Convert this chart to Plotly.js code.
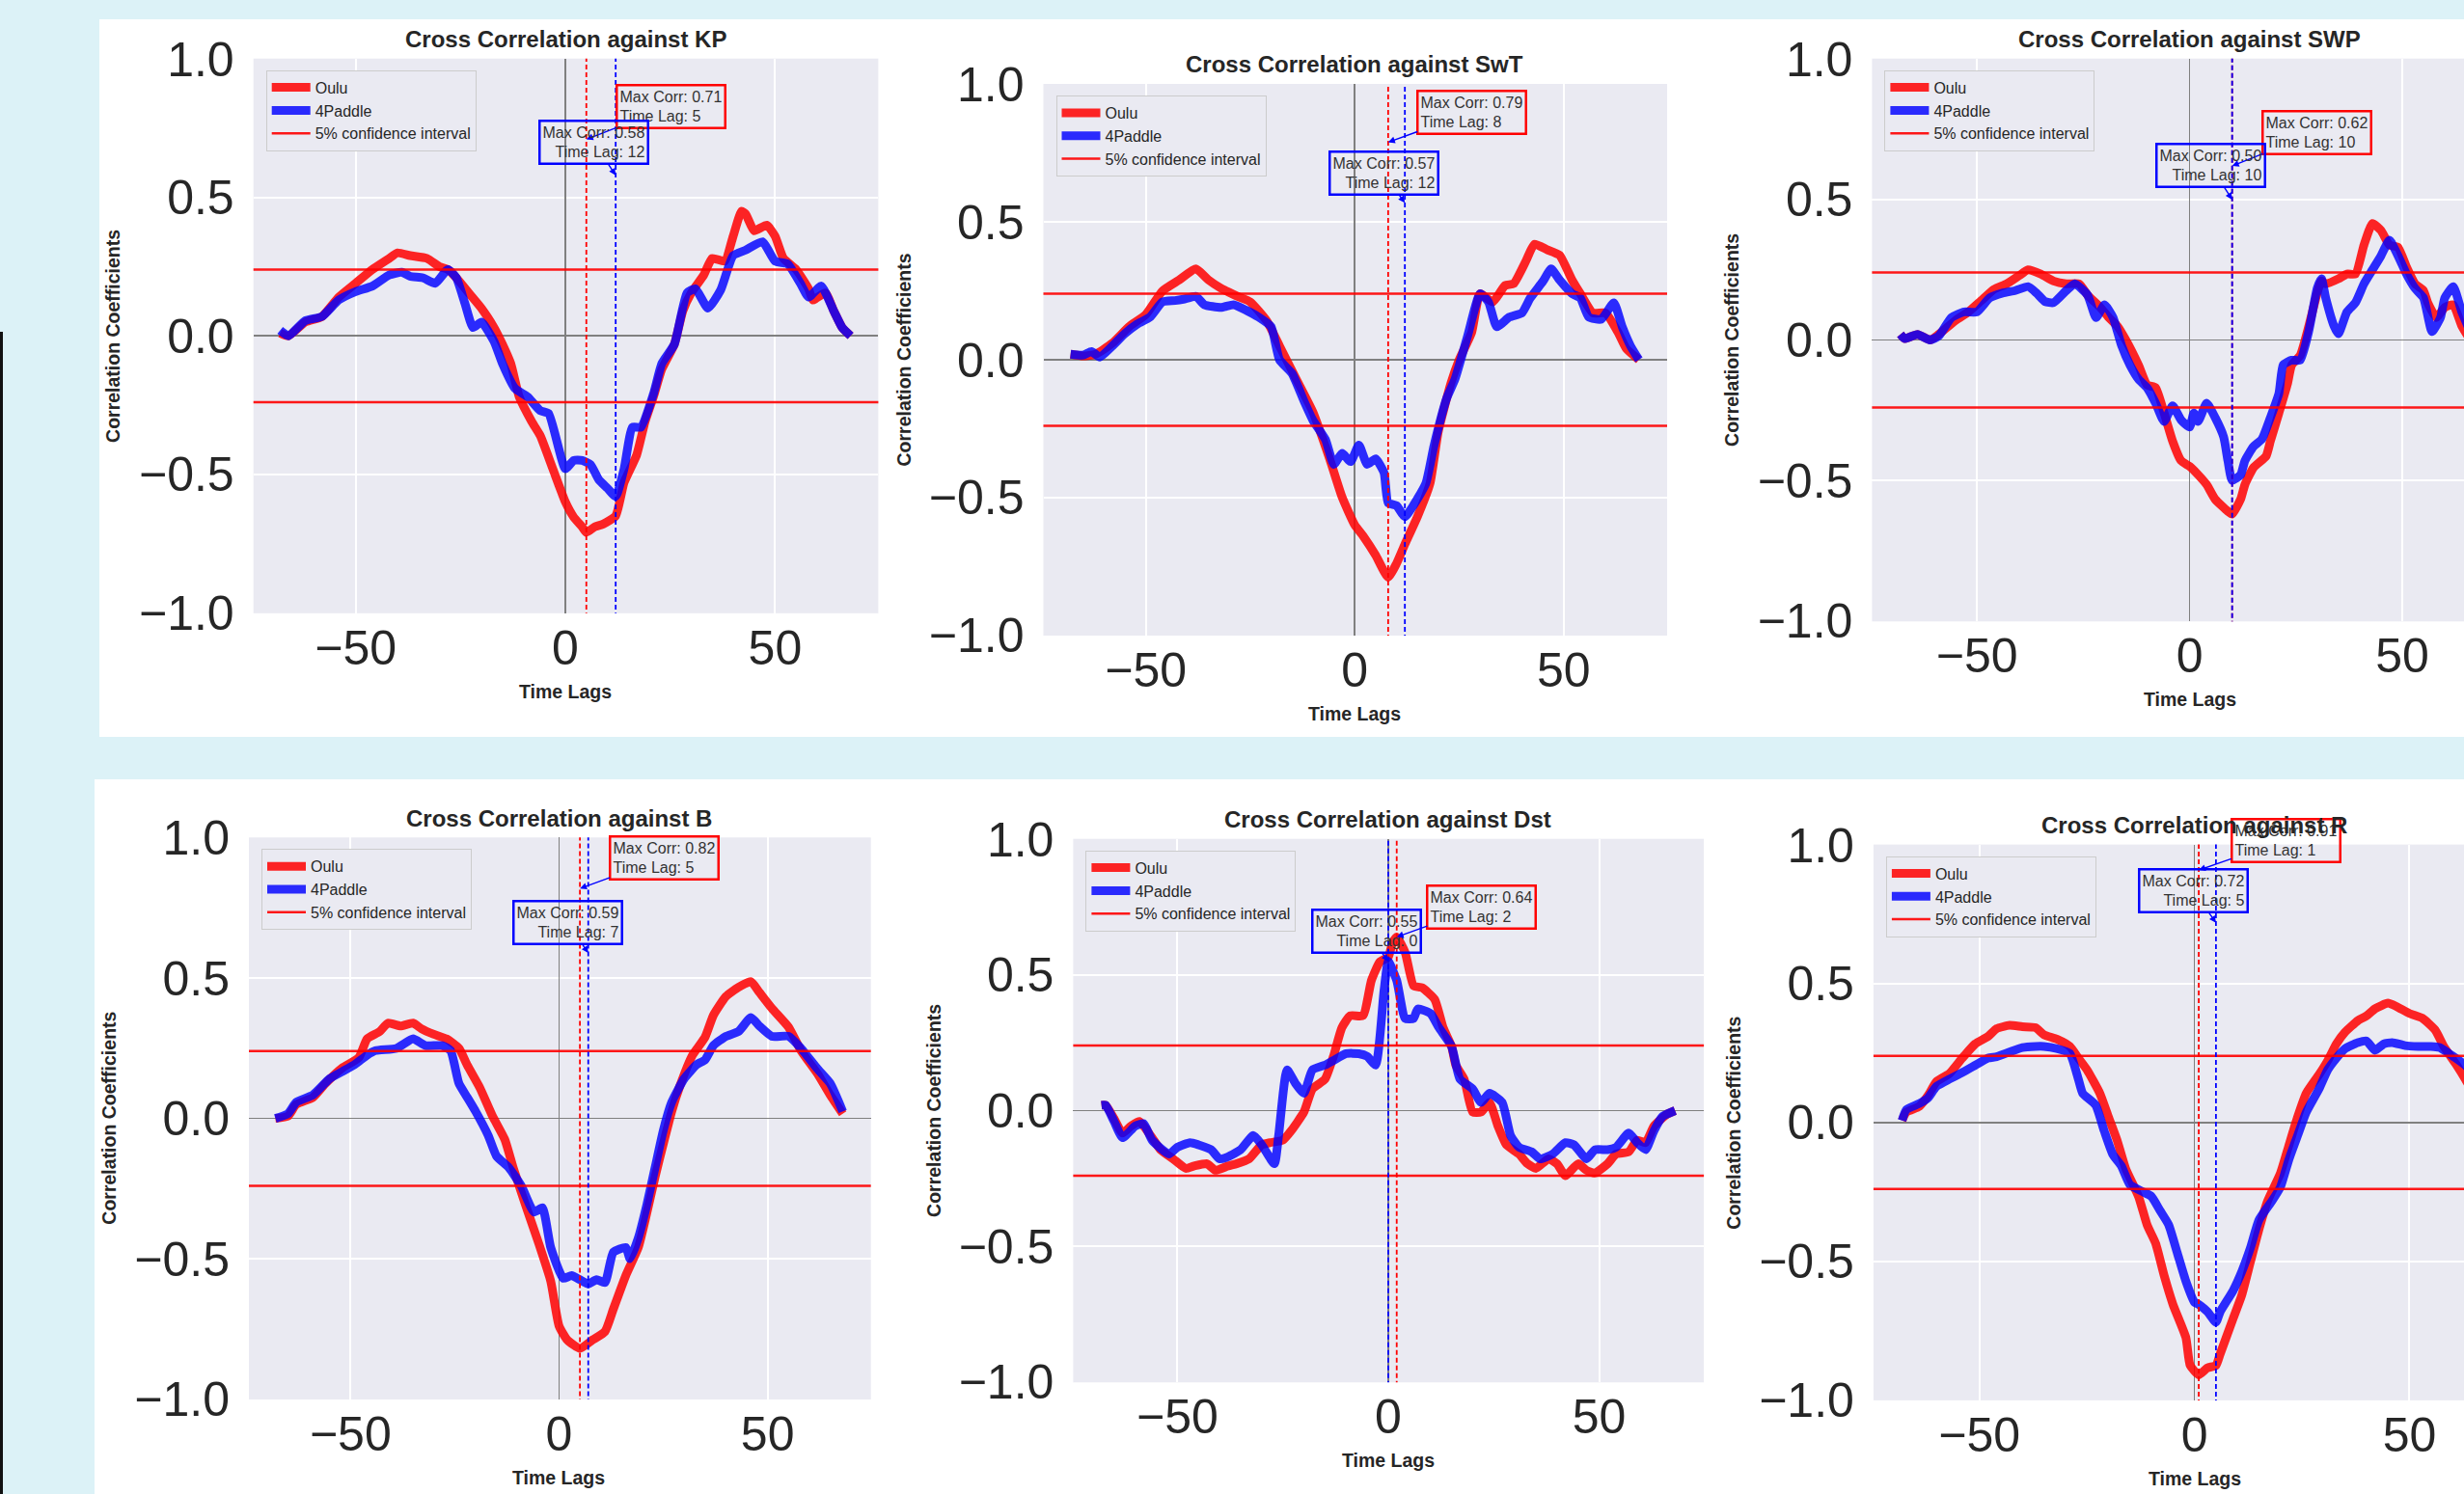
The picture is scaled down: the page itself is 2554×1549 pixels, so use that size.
<!DOCTYPE html>
<html>
<head>
<meta charset="utf-8">
<script src="https://cdn.plot.ly/plotly-3.0.1.min.js"></script>
<style>
html,body{margin:0;padding:0;background:#ffffff;}
#chart{width:2554px;height:1549px;}
</style>
</head>
<body>
<div id="chart"></div>
<script>
// ---------------- DATA ----------------
const panelNames = ['KP', 'SwT', 'SWP', 'B', 'Dst', 'R'];
const seriesNames = ['Oulu', '4Paddle'];
const confidenceLabel = '5% confidence interval';
const confidenceLevel = 0.24;

const ouluMaxCorr   = [0.71, 0.79, 0.62, 0.82, 0.64, 0.91];
const ouluTimeLag   = [5, 8, 10, 5, 2, 1];
const paddleMaxCorr = [0.58, 0.57, 0.50, 0.59, 0.55, 0.72];
const paddleTimeLag = [12, 12, 10, 7, 0, 5];

// KP
const kpOuluLag = [-68,-66,-62,-58,-54,-50,-46,-42,-40,-37,-33,-30,-28,-26,-23,-20,-17,-15,-13,-11,-8,-6,-3,0,2,4,5,7,9,12,14,17,19,21,23,26,28,30,33,35,38,40,42,43,45,48,50,52,55,58,59,62,64,66,68];
const kpOuluCorr = [0.01,0.0,0.05,0.07,0.14,0.19,0.24,0.28,0.30,0.29,0.28,0.25,0.24,0.21,0.155,0.10,0.03,-0.03,-0.10,-0.22,-0.31,-0.36,-0.48,-0.60,-0.655,-0.69,-0.71,-0.69,-0.68,-0.65,-0.53,-0.43,-0.31,-0.22,-0.12,-0.03,0.09,0.155,0.22,0.28,0.27,0.36,0.45,0.44,0.38,0.40,0.36,0.28,0.24,0.17,0.13,0.155,0.09,0.03,0.0];
const kpPaddleLag = [-68,-66,-62,-58,-54,-50,-46,-42,-39,-37,-34,-31,-28,-26,-24,-22,-20,-17,-15,-12,-9,-6,-4,0,2,4,6,8,10,12,14,16,18,21,23,26,29,31,34,37,40,43,47,50,53,56,58,61,64,66,68];
const kpPaddleCorr = [0.02,0.0,0.055,0.07,0.13,0.16,0.18,0.22,0.23,0.215,0.21,0.19,0.24,0.21,0.12,0.03,0.05,-0.02,-0.10,-0.19,-0.22,-0.27,-0.28,-0.48,-0.45,-0.45,-0.465,-0.52,-0.55,-0.58,-0.48,-0.33,-0.33,-0.21,-0.10,-0.03,0.155,0.17,0.10,0.165,0.29,0.31,0.34,0.27,0.26,0.19,0.14,0.18,0.09,0.03,0.0];

// SwT
const swtOuluLag = [-68,-65,-62,-58,-54,-50,-46,-42,-38,-35,-32,-28,-25,-21,-18,-14,-10,-6,-3,0,2,5,8,10,12,15,18,20,23,25,28,30,33,36,38,41,43,46,49,52,54,57,60,63,65,68];
const swtOuluCorr = [0.02,0.014,0.02,0.06,0.12,0.164,0.25,0.29,0.33,0.29,0.26,0.23,0.21,0.14,0.05,-0.07,-0.19,-0.36,-0.50,-0.60,-0.64,-0.71,-0.79,-0.74,-0.67,-0.57,-0.45,-0.26,-0.086,0.0,0.10,0.24,0.21,0.27,0.276,0.36,0.42,0.40,0.38,0.29,0.24,0.17,0.17,0.10,0.04,0.0];
const swtPaddleLag = [-68,-65,-63,-61,-58,-55,-52,-49,-46,-43,-41,-38,-36,-32,-29,-26,-23,-20,-18,-15,-12,-10,-7,-5,-3,-1,1,3,5,7,8,10,12,14,17,19,22,24,27,30,32,34,37,40,42,45,47,49,52,54,56,59,62,64,66,68];
const swtPaddleCorr = [0.02,0.017,0.03,0.01,0.05,0.095,0.13,0.155,0.21,0.215,0.22,0.23,0.20,0.19,0.20,0.18,0.155,0.12,0.0,-0.05,-0.155,-0.22,-0.29,-0.38,-0.34,-0.37,-0.31,-0.38,-0.36,-0.41,-0.52,-0.53,-0.57,-0.53,-0.45,-0.31,-0.14,-0.07,0.086,0.24,0.21,0.12,0.155,0.17,0.224,0.284,0.33,0.29,0.24,0.224,0.155,0.147,0.207,0.12,0.05,0.0];

// SWP
const swpOuluLag = [-68,-67,-64,-61,-59,-55,-52,-49,-46,-43,-40,-38,-35,-32,-29,-26,-24,-21,-19,-17,-15,-12,-10,-8,-6,-4,-2,0,2,4,6,9,10,12,13,15,18,19,21,23,24,26,28,30,31,32,35,37,39,41,43,45,47,49,51,53,55,56,58,60,62,64,66];
const swpOuluCorr = [0.02,0.005,0.02,0.0,0.02,0.07,0.10,0.14,0.18,0.20,0.23,0.25,0.235,0.21,0.20,0.20,0.16,0.116,0.08,0.05,0.0,-0.09,-0.16,-0.17,-0.26,-0.36,-0.43,-0.45,-0.48,-0.515,-0.567,-0.61,-0.62,-0.567,-0.515,-0.455,-0.413,-0.36,-0.26,-0.157,-0.089,-0.055,0.048,0.167,0.21,0.20,0.218,0.235,0.235,0.338,0.415,0.39,0.338,0.33,0.26,0.20,0.176,0.133,0.08,0.116,0.125,0.05,0.0];
const swpPaddleLag = [-68,-67,-64,-61,-59,-56,-53,-50,-47,-44,-41,-38,-36,-34,-32,-29,-27,-24,-22,-20,-18,-16,-14,-12,-10,-8,-6,-4,-2,0,1,2,4,6,8,9,10,12,13,15,17,19,21,22,24,26,28,30,31,32,34,35,37,39,41,43,45,47,49,51,53,55,57,59,60,62,64,66];
const swpPaddleCorr = [0.02,0.005,0.02,0.0,0.014,0.08,0.10,0.10,0.15,0.167,0.176,0.19,0.167,0.137,0.133,0.176,0.20,0.16,0.08,0.125,0.08,-0.02,-0.09,-0.14,-0.17,-0.225,-0.29,-0.234,-0.285,-0.31,-0.26,-0.29,-0.225,-0.276,-0.345,-0.43,-0.50,-0.48,-0.43,-0.38,-0.353,-0.276,-0.19,-0.089,-0.072,-0.072,0.03,0.184,0.218,0.15,0.048,0.022,0.10,0.133,0.20,0.25,0.30,0.355,0.30,0.235,0.184,0.15,0.03,0.08,0.15,0.19,0.10,0.03];

// B
const bOuluLag = [-68,-65,-63,-59,-56,-52,-48,-46,-43,-41,-38,-35,-33,-30,-27,-24,-22,-19,-16,-13,-11,-8,-5,-2,0,2,5,8,11,13,16,19,21,23,25,27,29,32,35,37,40,43,46,48,51,55,58,62,65,68];
const bOuluCorr = [0.0,0.008,0.05,0.075,0.125,0.18,0.217,0.284,0.31,0.34,0.33,0.34,0.32,0.30,0.284,0.25,0.19,0.11,0.01,-0.075,-0.175,-0.31,-0.44,-0.58,-0.74,-0.79,-0.82,-0.79,-0.76,-0.68,-0.56,-0.46,-0.34,-0.21,-0.09,0.025,0.117,0.226,0.29,0.368,0.435,0.468,0.488,0.45,0.393,0.326,0.242,0.159,0.084,0.017];
const bPaddleLag = [-68,-65,-63,-59,-55,-52,-49,-46,-44,-39,-35,-32,-28,-26,-24,-22,-20,-17,-15,-12,-9,-6,-4,-2,1,3,5,7,9,11,13,16,17,19,21,23,25,27,30,33,35,37,40,43,46,48,51,55,58,62,65,68];
const bPaddleCorr = [0.0,0.017,0.058,0.084,0.142,0.167,0.192,0.226,0.242,0.25,0.284,0.26,0.26,0.242,0.125,0.075,0.025,-0.06,-0.134,-0.176,-0.242,-0.334,-0.318,-0.46,-0.57,-0.56,-0.575,-0.59,-0.575,-0.585,-0.477,-0.46,-0.50,-0.426,-0.31,-0.176,-0.042,0.058,0.142,0.192,0.209,0.26,0.293,0.31,0.36,0.33,0.293,0.293,0.25,0.176,0.125,0.025];

// Dst
const dstOuluLag = [-68,-67,-65,-63,-61,-59,-56,-54,-51,-48,-46,-43,-41,-38,-36,-33,-30,-28,-25,-23,-20,-18,-15,-13,-11,-9,-6,-4,-2,0,1,2,4,6,8,11,13,15,16,18,20,22,24,26,28,31,33,35,38,40,42,45,47,49,52,54,57,59,61,63,66,68];
const dstOuluCorr = [0.02,0.02,-0.03,-0.083,-0.057,-0.04,-0.10,-0.144,-0.178,-0.213,-0.204,-0.196,-0.22,-0.204,-0.196,-0.178,-0.126,-0.118,-0.109,-0.074,-0.005,0.08,0.116,0.20,0.306,0.35,0.35,0.48,0.548,0.566,0.618,0.64,0.583,0.46,0.453,0.41,0.306,0.237,0.168,0.116,-0.005,-0.005,0.03,-0.057,-0.126,-0.16,-0.196,-0.213,-0.178,-0.196,-0.24,-0.196,-0.22,-0.23,-0.196,-0.16,-0.152,-0.109,-0.118,-0.057,-0.014,0.0];
const dstPaddleLag = [-68,-67,-65,-63,-60,-58,-56,-52,-50,-47,-45,-42,-40,-38,-35,-32,-30,-27,-26,-24,-22,-20,-18,-15,-13,-10,-7,-5,-3,-1,0,2,4,6,7,10,12,15,17,20,22,24,27,29,31,34,36,39,42,44,47,49,52,54,57,59,61,63,65,68];
const dstPaddleCorr = [0.02,0.02,-0.04,-0.10,-0.057,-0.048,-0.109,-0.16,-0.135,-0.118,-0.126,-0.144,-0.178,-0.17,-0.144,-0.092,-0.126,-0.196,-0.092,0.15,0.10,0.064,0.15,0.168,0.185,0.21,0.21,0.20,0.168,0.445,0.55,0.48,0.34,0.34,0.375,0.358,0.306,0.237,0.116,0.08,0.03,0.064,0.03,-0.092,-0.135,-0.152,-0.178,-0.16,-0.118,-0.126,-0.178,-0.144,-0.144,-0.135,-0.083,-0.118,-0.144,-0.074,-0.022,0.0];

// R
const rOuluLag = [-68,-67,-64,-62,-60,-57,-54,-51,-48,-46,-43,-40,-37,-35,-32,-29,-27,-25,-22,-20,-18,-16,-13,-11,-9,-7,-5,-2,-1,1,3,5,6,9,11,13,15,17,20,22,24,26,29,31,33,35,38,40,42,45,47,50,53,56,58,61,63,65];
const rOuluCorr = [0.007,0.037,0.058,0.096,0.147,0.176,0.232,0.283,0.31,0.338,0.35,0.345,0.342,0.316,0.30,0.274,0.232,0.19,0.105,0.02,-0.064,-0.166,-0.267,-0.37,-0.437,-0.555,-0.656,-0.775,-0.876,-0.91,-0.885,-0.876,-0.834,-0.707,-0.623,-0.504,-0.386,-0.284,-0.183,-0.081,0.02,0.105,0.173,0.223,0.283,0.325,0.367,0.384,0.41,0.43,0.418,0.393,0.376,0.333,0.274,0.206,0.156,0.10];
const rPaddleLag = [-68,-67,-64,-62,-60,-57,-54,-51,-48,-46,-43,-40,-37,-35,-32,-29,-27,-26,-23,-21,-19,-17,-15,-12,-10,-8,-6,-4,-2,0,1,3,5,6,9,11,13,15,18,20,22,24,26,29,31,33,35,38,40,42,44,46,49,52,55,57,60,63,65];
const rPaddleCorr = [0.007,0.046,0.068,0.088,0.13,0.156,0.18,0.206,0.232,0.237,0.254,0.27,0.274,0.274,0.266,0.249,0.156,0.105,0.063,-0.03,-0.115,-0.157,-0.225,-0.25,-0.267,-0.318,-0.369,-0.47,-0.572,-0.648,-0.656,-0.682,-0.72,-0.682,-0.606,-0.538,-0.453,-0.352,-0.284,-0.233,-0.132,-0.047,0.037,0.122,0.19,0.232,0.266,0.288,0.294,0.26,0.283,0.288,0.277,0.274,0.274,0.27,0.24,0.206,0.17];

const yTickVals = [-1, -0.5, 0, 0.5, 1];
const xTickVals = [-50, 0, 50];

// ---------------- LAYOUT GEOMETRY (pixels) ----------------
const W = 2554, H = 1549;
const FONT = 'Liberation Sans, Arial, Helvetica, sans-serif';
const TXT = '#262626';
const RED = 'rgba(255,0,0,0.85)';
const BLUE = 'rgba(0,0,255,0.82)';

const ouluLags  = [kpOuluLag, swtOuluLag, swpOuluLag, bOuluLag, dstOuluLag, rOuluLag];
const ouluCorrs = [kpOuluCorr, swtOuluCorr, swpOuluCorr, bOuluCorr, dstOuluCorr, rOuluCorr];
const padLags   = [kpPaddleLag, swtPaddleLag, swpPaddleLag, bPaddleLag, dstPaddleLag, rPaddleLag];
const padCorrs  = [kpPaddleCorr, swtPaddleCorr, swpPaddleCorr, bPaddleCorr, dstPaddleCorr, rPaddleCorr];

// plot area boxes [left, right, top, bottom] in px
const boxes = [
  [262.7, 910.4, 60.7, 635.8],
  [1081.5, 1728, 87, 659],
  [1940.4, 2554, 60.7, 644.3],
  [258, 902.7, 868.3, 1451],
  [1112.4, 1766.1, 869.7, 1433.3],
  [1941.9, 2554, 875.6, 1451.9]
];
const xRanges = [[-74.36,74.61],[-74.5,74.75],[-74.68,64.52],[-74.35,74.75],[-74.7,74.82],[-74.65,62.69]];
// annotation box centres (data coords): [redX, redY, blueX, blueY]
const boxPos = [
  [25.1, 0.828, 6.8, 0.70],
  [28.0, 0.90, 6.9, 0.678],
  [30.0, 0.739, 4.9, 0.62],
  [25.2, 0.93, 2.0, 0.70],
  [22.1, 0.752, -5.2, 0.661],
  [21.2, 1.018, -0.2, 0.835]
];

const px = v => v / W;
const py = v => 1 - v / H;

const traces = [];
const layout = {
  width: W, height: H,
  margin: {l: 0, r: 0, t: 0, b: 0, pad: 0},
  paper_bgcolor: '#ffffff',
  plot_bgcolor: '#EAEAF2',
  showlegend: true,
  font: {family: FONT, color: TXT},
  annotations: [],
  shapes: []
};

// background collage (cyan gaps + black edge)
const CYAN = '#dcf2f7';
function rectPx(x0, y0, x1, y1, color) {
  layout.shapes.push({type: 'rect', xref: 'paper', yref: 'paper', layer: 'below',
    x0: px(x0), x1: px(x1), y0: py(y1), y1: py(y0), fillcolor: color, line: {width: 0}});
}
rectPx(0, 0, W, 20, CYAN);
rectPx(0, 0, 103, 765, CYAN);
rectPx(0, 764, W, 808, CYAN);
rectPx(0, 765, 98, H, CYAN);
rectPx(0, 344, 3, H, '#111111');

panelNames.forEach((name, i) => {
  const k = i + 1;
  const xa = 'x' + (k === 1 ? '' : k), ya = 'y' + (k === 1 ? '' : k);
  const xKey = 'xaxis' + (k === 1 ? '' : k), yKey = 'yaxis' + (k === 1 ? '' : k);
  const lg = 'legend' + (k === 1 ? '' : k);
  const [L, R, T, B] = boxes[i];
  const xr = xRanges[i];

  traces.push({type: 'scatter', mode: 'lines', x: ouluLags[i], y: ouluCorrs[i], name: seriesNames[0],
    xaxis: xa, yaxis: ya, legend: lg, line: {color: RED, width: 9, shape: 'spline', smoothing: 0.5}});
  traces.push({type: 'scatter', mode: 'lines', x: padLags[i], y: padCorrs[i], name: seriesNames[1],
    xaxis: xa, yaxis: ya, legend: lg, line: {color: BLUE, width: 9, shape: 'spline', smoothing: 0.5}});
  traces.push({type: 'scatter', mode: 'lines', x: [-80, 80, null, -80, 80],
    y: [confidenceLevel, confidenceLevel, null, -confidenceLevel, -confidenceLevel],
    name: confidenceLabel, xaxis: xa, yaxis: ya, legend: lg, line: {color: 'rgba(255,0,0,0.9)', width: 2.5}});
  traces.push({type: 'scatter', mode: 'lines', x: [ouluTimeLag[i], ouluTimeLag[i]], y: [-1.1, 1.1],
    xaxis: xa, yaxis: ya, showlegend: false, hoverinfo: 'skip', line: {color: 'red', width: 1.8, dash: '5px,3px'}});
  traces.push({type: 'scatter', mode: 'lines', x: [paddleTimeLag[i], paddleTimeLag[i]], y: [-1.1, 1.1],
    xaxis: xa, yaxis: ya, showlegend: false, hoverinfo: 'skip', line: {color: 'blue', width: 1.8, dash: '5px,3px'}});

  layout[xKey] = {
    domain: [px(L), px(R)], range: xr, anchor: ya,
    tickmode: 'array', tickvals: xTickVals,
    showgrid: true, gridcolor: '#ffffff', gridwidth: 2,
    zeroline: true, zerolinecolor: '#808080', zerolinewidth: 1.6,
    showline: false, ticks: '', ticklabelstandoff: 2,
    tickfont: {size: 50, color: TXT, family: FONT}, fixedrange: true
  };
  layout[yKey] = {
    domain: [py(B), py(T)], range: [-1.002, 1.002], anchor: xa,
    tickmode: 'array', tickvals: yTickVals, tickformat: '.1f',
    showgrid: true, gridcolor: '#ffffff', gridwidth: 2,
    zeroline: true, zerolinecolor: '#808080', zerolinewidth: 1.6,
    showline: false, ticks: 'outside', ticklen: 9, tickcolor: 'rgba(0,0,0,0)',
    tickfont: {size: 50, color: TXT, family: FONT}, fixedrange: true
  };
  layout[lg] = {
    x: px(L + 13), y: py(T + 12), xanchor: 'left', yanchor: 'top',
    bgcolor: '#EAEAF2', bordercolor: '#cccccc', borderwidth: 1,
    font: {size: 16, color: TXT, family: FONT}, itemwidth: 40, tracegroupgap: 0
  };

  // max-corr annotation boxes
  const bp = boxPos[i];
  layout.annotations.push({
    xref: xa, yref: ya, x: ouluTimeLag[i], y: ouluMaxCorr[i], axref: xa, ayref: ya, ax: bp[0], ay: bp[1],
    text: 'Max Corr: ' + ouluMaxCorr[i].toFixed(2) + '<br>Time Lag: ' + ouluTimeLag[i],
    align: 'left', showarrow: true, arrowhead: 2, arrowsize: 1, arrowwidth: 1.4, arrowcolor: 'blue',
    bordercolor: 'red', borderwidth: 2.5, borderpad: 2, font: {size: 16, color: '#333333', family: FONT}
  });
  layout.annotations.push({
    xref: xa, yref: ya, x: paddleTimeLag[i], y: paddleMaxCorr[i], axref: xa, ayref: ya, ax: bp[2], ay: bp[3],
    text: 'Max Corr: ' + paddleMaxCorr[i].toFixed(2) + '<br>Time Lag: ' + paddleTimeLag[i],
    align: 'right', showarrow: true, arrowhead: 2, arrowsize: 1, arrowwidth: 1.4, arrowcolor: 'blue',
    bordercolor: 'blue', borderwidth: 2.5, borderpad: 2, font: {size: 16, color: '#333333', family: FONT}
  });

  // titles
  layout.annotations.push({
    xref: xa, yref: 'paper', x: 0, y: py(T - 20), xanchor: 'center', yanchor: 'middle', showarrow: false,
    text: '<b>Cross Correlation against ' + name + '</b>', font: {size: 24, color: TXT, family: FONT}
  });
  layout.annotations.push({
    xref: xa, yref: 'paper', x: 0, y: py(B + 81), xanchor: 'center', yanchor: 'middle', showarrow: false,
    text: '<b>Time Lags</b>', font: {size: 19.5, color: TXT, family: FONT}
  });
  layout.annotations.push({
    xref: 'paper', yref: ya, x: px(L - 145), y: 0, xanchor: 'center', yanchor: 'middle', showarrow: false,
    textangle: -90, text: '<b>Correlation Coefficients</b>', font: {size: 19.5, color: TXT, family: FONT}
  });
});

Plotly.newPlot('chart', traces, layout, {staticPlot: true, displayModeBar: false});
</script>
</body>
</html>
